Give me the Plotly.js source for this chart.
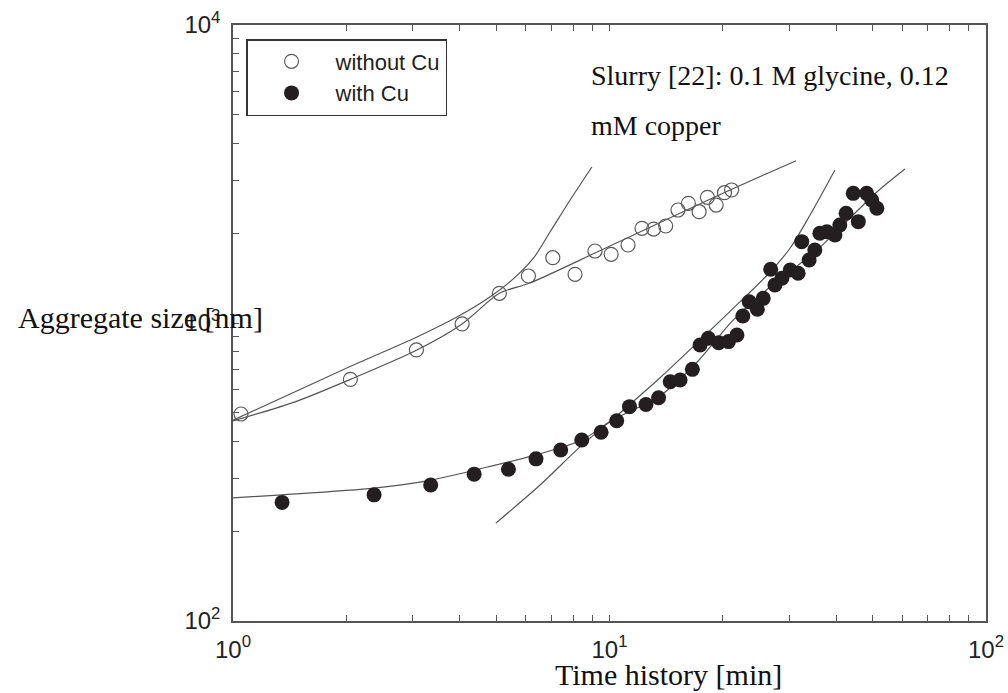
<!DOCTYPE html>
<html>
<head>
<meta charset="utf-8">
<script src="https://cdn.plot.ly/plotly-3.0.1.min.js"></script>
<style>
  html, body { margin: 0; padding: 0; background: #fff; }
  #chart { width: 1008px; height: 693px; }
</style>
</head>
<body>
<div id="chart"></div>
<script>
// ---- data ----
const timeWithoutCu = [1.05, 2.05, 3.07, 4.06, 5.10, 6.09, 7.07, 8.1, 9.15, 10.1, 11.2, 12.2, 13.1, 14.1, 15.2, 16.2, 17.3, 18.2, 19.2, 20.2, 21.1];
const sizeWithoutCu = [495, 647, 812, 993, 1258, 1438, 1656, 1457, 1744, 1700, 1827, 2078, 2067, 2116, 2394, 2522, 2363, 2641, 2488, 2737, 2795];

const timeWithCu = [1.35, 2.37, 3.35, 4.37, 5.39, 6.38, 7.42, 8.44, 9.5, 10.45, 11.3, 12.5, 13.5, 14.5, 15.4, 16.6, 17.4, 18.3, 19.5, 20.7, 21.8, 22.6, 23.5, 24.7, 25.6, 26.8, 27.5, 28.7, 30.2, 31.7, 32.4, 33.9, 35.1, 36.2, 37.8, 39.7, 40.9, 42.5, 44.4, 45.8, 48.2, 49.7, 51.3];
const sizeWithCu = [250, 265, 286, 311, 323, 350, 375, 405, 430, 470, 524, 533, 561, 635, 644, 699, 844, 889, 859, 866, 911, 1056, 1179, 1112, 1210, 1514, 1341, 1413, 1506, 1468, 1875, 1627, 1758, 2000, 2025, 1974, 2133, 2334, 2723, 2188, 2723, 2586, 2426];

// fitted curves
const fitWithoutSlowT = [1.0, 1.48, 2.05, 3.08, 4.06, 5.1, 6.15, 9.15, 13.9, 20.9, 31.3];
const fitWithoutSlowY = [469, 547, 647, 812, 993, 1258, 1362, 1717, 2200, 2795, 3505];
const fitWithoutFastT = [1.0, 2.06, 3.08, 4.0, 4.8, 5.6, 6.3, 6.95, 7.86, 8.98];
const fitWithoutFastY = [472, 717, 898, 1060, 1220, 1420, 1660, 2020, 2587, 3338];

const fitWithSlowT = [1.0, 1.35, 2.37, 3.36, 4.53, 6.38, 8.45, 10.2, 13.6, 17.1, 21.3, 26.7, 35.6, 43.5, 51.3, 60.9];
const fitWithSlowY = [259, 265, 279, 297, 324, 361, 405, 473, 569, 740, 1023, 1321, 1758, 2250, 2752, 3287];
const fitWithFastT = [4.99, 6.54, 8.35, 10.66, 13.6, 17.4, 22.2, 26.7, 30.2, 34.1, 39.7];
const fitWithFastY = [213, 286, 384, 499, 654, 877, 1177, 1483, 1785, 2303, 3262];

const xTickVals = [1, 10, 100];
const xTickText = ['10<sup>0</sup>', '10<sup>1</sup>', '10<sup>2</sup>'];
const yTickVals = [100, 1000, 10000];
const yTickText = ['10<sup>2</sup>', '10<sup>3</sup>', '10<sup>4</sup>'];

const legendNames = ['without Cu', 'with Cu'];
const annotationLine1 = 'Slurry [22]: 0.1 M glycine, 0.12';
const annotationLine2 = 'mM copper';
const xTitle = 'Time history [min]';
const yTitle = 'Aggregate size [nm]';

// ---- styles ----
const lineColor = '#555555';
const fitLine = {color: lineColor, width: 1.2, shape: 'spline', smoothing: 0.8};

const traces = [
  {x: fitWithoutSlowT, y: fitWithoutSlowY, mode: 'lines', line: fitLine, showlegend: false, hoverinfo: 'skip', name: 'fit without Cu'},
  {x: fitWithoutFastT, y: fitWithoutFastY, mode: 'lines', line: fitLine, showlegend: false, hoverinfo: 'skip', name: 'fit without Cu (fast)'},
  {x: fitWithSlowT, y: fitWithSlowY, mode: 'lines', line: fitLine, showlegend: false, hoverinfo: 'skip', name: 'fit with Cu'},
  {x: fitWithFastT, y: fitWithFastY, mode: 'lines', line: fitLine, showlegend: false, hoverinfo: 'skip', name: 'fit with Cu (fast)'},
  {x: timeWithoutCu, y: sizeWithoutCu, mode: 'markers', name: legendNames[0], legendgroup: 'a',
   marker: {symbol: 'circle-open', size: 14, color: '#5a5a5a', line: {width: 1.2, color: '#5a5a5a'}}},
  {x: timeWithCu, y: sizeWithCu, mode: 'markers', name: legendNames[1], legendgroup: 'b',
   marker: {symbol: 'circle', size: 15, color: '#231f20', line: {width: 0}}}
];

const tickFont = {family: 'Liberation Sans, Arial, sans-serif', size: 24, color: '#222222'};

const axisCommon = {
  type: 'log',
  tickmode: 'array',
  showline: true,
  linecolor: lineColor,
  linewidth: 1.5,
  ticks: 'inside',
  ticklen: 6,
  tickwidth: 1.2,
  tickcolor: lineColor,
  showgrid: false,
  zeroline: false,
  minor: {ticks: 'inside', ticklen: 6, tickwidth: 1.2, tickcolor: lineColor, dtick: 'D1', showgrid: false}
};

const layout = {
  width: 1008,
  height: 693,
  margin: {l: 233, r: 22, t: 25, b: 72},
  paper_bgcolor: '#ffffff',
  plot_bgcolor: '#ffffff',
  font: {family: 'Liberation Sans, Arial, sans-serif', color: '#222222'},
  xaxis: Object.assign({}, axisCommon, {range: [0, 2], tickvals: xTickVals, ticktext: xTickText, mirror: 'ticks', ticklabelstandoff: 6, tickfont: tickFont}),
  yaxis: Object.assign({}, axisCommon, {range: [2, 4], tickvals: yTickVals, ticktext: yTickText, mirror: true, ticklabelstandoff: 6, tickfont: tickFont}),
  showlegend: true,
  legend: {
    x: 0.0173, y: 0.9765, xanchor: 'left', yanchor: 'top',
    bordercolor: '#333333', borderwidth: 1.5, bgcolor: '#ffffff',
    font: {family: 'Liberation Sans, Arial, sans-serif', size: 22, color: '#222222'},
    itemwidth: 78, tracegroupgap: 0, traceorder: 'grouped'
  },
  annotations: [
    {text: annotationLine1, xref: 'paper', yref: 'paper', x: 0.4728, y: 0.9153, xanchor: 'left', yanchor: 'middle', showarrow: false,
     font: {family: 'Liberation Serif, Times New Roman, serif', size: 28, color: '#111111'}},
    {text: annotationLine2, xref: 'paper', yref: 'paper', x: 0.4728, y: 0.8314, xanchor: 'left', yanchor: 'middle', showarrow: false,
     font: {family: 'Liberation Serif, Times New Roman, serif', size: 28, color: '#111111'}},
    {text: yTitle, xref: 'paper', yref: 'paper', x: -0.1223, y: 0.5091, xanchor: 'center', yanchor: 'middle', showarrow: false,
     font: {family: 'Liberation Serif, Times New Roman, serif', size: 30, color: '#111111'}},
    {text: xTitle, xref: 'paper', yref: 'paper', x: 0.579, y: -0.0906, xanchor: 'center', yanchor: 'middle', showarrow: false,
     font: {family: 'Liberation Serif, Times New Roman, serif', size: 30, color: '#111111'}}
  ]
};

Plotly.newPlot('chart', traces, layout, {displayModeBar: false, responsive: false});
</script>
</body>
</html>
